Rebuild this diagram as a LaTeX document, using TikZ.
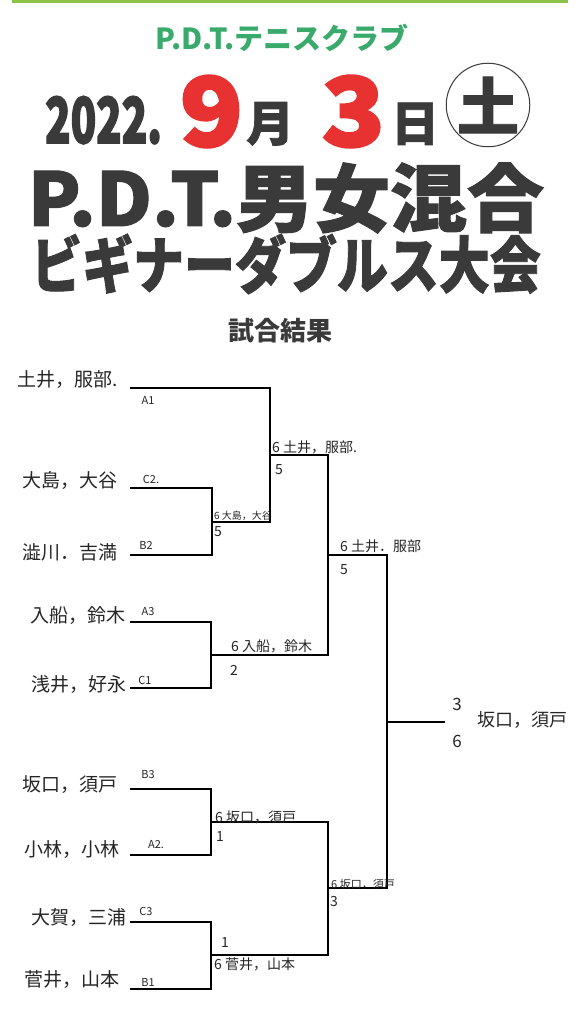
\documentclass[tikz,border=0pt]{standalone}
\usepackage{fontspec}
\usepackage{graphicx}
\newfontfamily\jp{Noto Sans CJK JP}
\newfontfamily\jpheavy{Noto Sans CJK JP}[BoldFeatures={FakeBold=1.5}]
\newfontfamily\jpheavier{Noto Sans CJK JP}[BoldFeatures={FakeBold=3}]
\definecolor{ink}{RGB}{58,58,58}
\definecolor{clubgreen}{RGB}{58,170,108}
\definecolor{topgreen}{RGB}{139,195,74}
\definecolor{datered}{RGB}{232,50,50}
\newcommand{\fs}[1]{\fontsize{#1}{#1}\selectfont}
\tikzset{
  ttl/.style={text=ink, inner sep=0pt},
  redday/.style={text=datered, inner sep=0pt, anchor=base west, font=\jpheavier\bfseries\fs{95}},
  br/.style={line width=2.8pt, black, line join=miter},
  teamname/.style={font=\jp\fs{19}, anchor=east, inner sep=0pt, text=black!85},
  seedlbl/.style={font=\jp\fs{11}, inner sep=0pt, text=black!85},
  scorelbl/.style={font=\jp\fs{14}, inner sep=0pt, text=black!85},
  winlbl/.style={font=\jp\fs{14}, inner sep=0pt, anchor=south west, text=black!85},
}
\begin{document}
\begin{tikzpicture}[x=1pt,y=-1pt]
\useasboundingbox (0,0) rectangle (581,1024);
\fill[white] (0,0) rectangle (581,1024);
\draw[topgreen, line width=3pt] (12,1.5) -- (568,1.5);

% headings
\node[ttl, text=clubgreen, font=\jp\bfseries\fs{29}] (club) at (282,38) {P.D.T.テニスクラブ};
\node[ttl, anchor=base west, font=\jpheavier\bfseries\fs{63}] (year) at (45,143) {\scalebox{0.665}[1]{2022.}};
\node[redday] (month) at (180,146) {\scalebox{1.08}[1]{9}};
\node[ttl, anchor=base west, font=\jpheavy\bfseries\fs{48}] (tsuki) at (246,141) {月};
\node[redday] (day) at (322,146) {\scalebox{1.08}[1]{3}};
\node[ttl, anchor=base west, font=\jpheavy\bfseries\fs{48}] (hi) at (391,141) {日};
\node[circle, draw=ink, line width=1pt, minimum size=80pt, inner sep=0pt, text=ink, font=\jpheavy\bfseries\fs{62}] (dow) at (488,105) {土};
\node[ttl, font=\jpheavy\bfseries\fs{74}] (t1) at (286,198) {\scalebox{1.04}[1]{P.D.T.男女混合}};
\node[ttl, font=\jpheavy\bfseries\fs{56}] (t2) at (286,264) {\scalebox{0.91}[1.1]{ビギナーダブルス大会}};
\node[ttl, font=\jp\bfseries\fs{26}] (t3) at (280,331) {試合結果};

% bracket points
\coordinate (e1) at (130,388);
\coordinate (e2) at (130,488);
\coordinate (e3) at (130,555);
\coordinate (e4) at (130,622);
\coordinate (e5) at (130,688);
\coordinate (e6) at (130,789);
\coordinate (e7) at (130,855);
\coordinate (e8) at (130,922);
\coordinate (e9) at (130,989);
\coordinate (m1) at (212,522);
\coordinate (m2) at (270,455);
\coordinate (m3) at (211,655);
\coordinate (s1) at (328,555);
\coordinate (m4) at (211,822);
\coordinate (m5) at (211,955);
\coordinate (s2) at (328,888);
\coordinate (f) at (387,722);
\coordinate (champ) at (445,722);

\draw[br] (e2) -| (m1) |- (e3);
\draw[br] (e1) -| (m2) |- (m1);
\draw[br] (e4) -| (m3) |- (e5);
\draw[br] (m2) -| (s1) |- (m3);
\draw[br] (e6) -| (m4) |- (e7);
\draw[br] (e8) -| (m5) |- (e9);
\draw[br] (m4) -| (s2) |- (m5);
\draw[br] (s1) -| (f) |- (s2);
\draw[br] (f) -- (champ);

% names
\node[teamname] (n1) at (118,380) {土井，服部.};
\node[teamname] (n2) at (118,480) {大島，大谷};
\node[teamname] (n3) at (118,552) {澁川．吉満};
\node[teamname] (n4) at (126,616) {入船，鈴木};
\node[teamname] (n5) at (127,685) {浅井，好永};
\node[teamname] (n6) at (118,785) {坂口，須戸};
\node[teamname] (n7) at (120,850) {小林，小林};
\node[teamname] (n8) at (127,918) {大賀，三浦};
\node[teamname] (n9) at (120,980) {菅井，山本};

% seeds
\node[seedlbl] (a1) at (148,400) {A1};
\node[seedlbl] (c2) at (151,479) {C2.};
\node[seedlbl] (b2) at (146,545) {B2};
\node[seedlbl] (a3) at (148,612) {A3};
\node[seedlbl] (c1) at (145,680) {C1};
\node[seedlbl] (b3) at (148,775) {B3};
\node[seedlbl] (a2) at (156,845) {A2.};
\node[seedlbl] (c3) at (146,911) {C3};
\node[seedlbl] (b1) at (148,982) {B1};

% results
\node[winlbl, font=\jp\fs{10}] (w1) at (214,521) {6 大島，大谷};
\node[scorelbl] (l1) at (218,532) {5};
\node[winlbl] (w2) at (272,454) {6 土井，服部.};
\node[scorelbl] (l2) at (279,470) {5};
\node[winlbl] (w3) at (231,653) {6 入船，鈴木};
\node[scorelbl] (l3) at (234,670) {2};
\node[winlbl] (w4) at (340,553) {6 土井．服部};
\node[scorelbl] (l4) at (344,570) {5};
\node[winlbl] (w5) at (215,824) {6 坂口，須戸};
\node[scorelbl] (l5) at (220,836) {1};
\node[scorelbl] (l6) at (225,942) {1};
\node[font=\jp\fs{14}, inner sep=0pt, anchor=north west, text=black!85] (w6) at (214,958) {6 菅井，山本};
\node[winlbl, font=\jp\fs{11}] (w7) at (331,890) {6 坂口，須戸};
\node[scorelbl] (l7) at (334,901) {3};
\node[scorelbl, font=\jp\fs{17}] (fl) at (457,704) {3};
\node[scorelbl, font=\jp\fs{17}] (fw) at (457,741) {6};
\node[font=\jp\fs{18}, inner sep=0pt, text=black!85] (champname) at (522,720) {坂口，須戸};
\end{tikzpicture}
\end{document}
